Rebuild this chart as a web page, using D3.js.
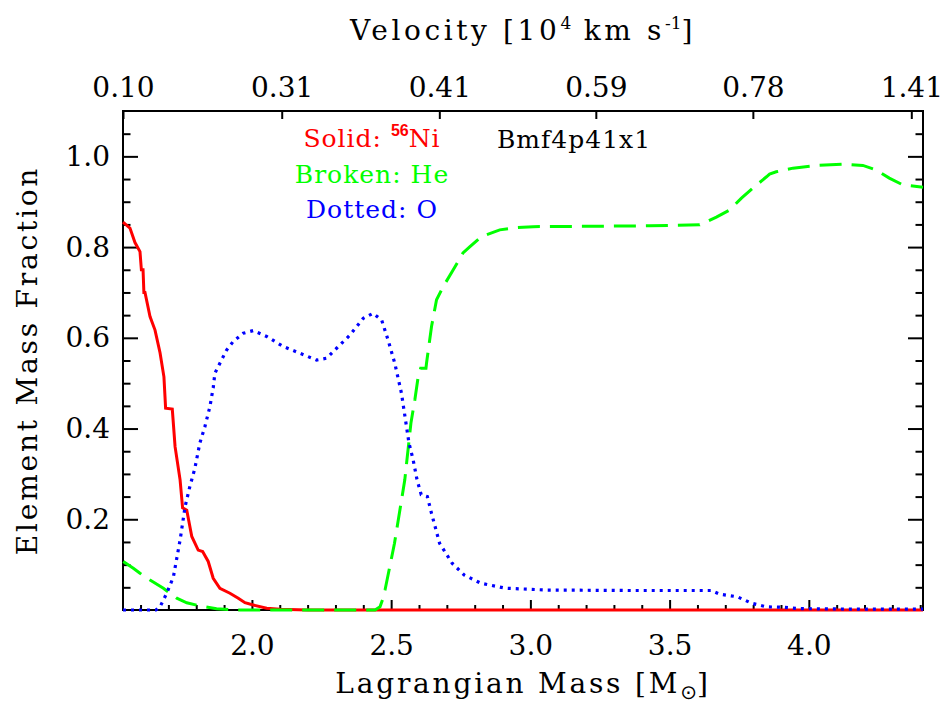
<!DOCTYPE html>
<html lang="en">
<head>
<meta charset="utf-8">
<title>Bmf4p41x1 element mass fractions</title>
<script src="https://cdnjs.cloudflare.com/ajax/libs/d3/7.8.5/d3.min.js"></script>
<style>
  body { margin: 0; background: #fff; }
  svg text { font-family: "DejaVu Serif", "Liberation Serif", serif; fill: #000; }
  .axis line { stroke: #000; stroke-width: 2; }
  .axis text { font-size: 28px; }
  .axis .domain { display: none; }
  .title { font-size: 28px; letter-spacing: 2.8px; }
  .legend { font-size: 25px; letter-spacing: 1px; }
</style>
</head>
<body>
<div id="chart"></div>
<script>

// 56Ni (solid red) : [Lagrangian mass, mass fraction]
var niData = [
  [1.537, 0.855], [1.562, 0.842], [1.580, 0.81], [1.598, 0.79], [1.603, 0.75],
  [1.609, 0.75], [1.612, 0.70], [1.616, 0.70], [1.634, 0.647], [1.652, 0.617],
  [1.670, 0.567], [1.684, 0.514], [1.690, 0.445], [1.714, 0.443], [1.724, 0.36],
  [1.742, 0.287], [1.751, 0.225], [1.766, 0.22], [1.784, 0.162], [1.807, 0.132],
  [1.823, 0.129], [1.843, 0.107], [1.861, 0.07], [1.885, 0.048], [1.921, 0.037],
  [1.951, 0.026], [1.975, 0.016], [2.005, 0.011], [2.053, 0.004], [2.101, 0.0015],
  [2.20, 0], [4.41, 0]
];

// He (broken green)
var heData = [
  [1.538, 0.107], [1.574, 0.092], [1.598, 0.081], [1.634, 0.066], [1.682, 0.048],
  [1.730, 0.026], [1.766, 0.016], [1.813, 0.009], [1.873, 0.003], [1.932, 0],
  [2.442, 0], [2.460, 0.007], [2.471, 0.026], [2.478, 0.044], [2.512, 0.147],
  [2.549, 0.287], [2.571, 0.412], [2.585, 0.463], [2.597, 0.514], [2.606, 0.533],
  [2.625, 0.533], [2.627, 0.544], [2.645, 0.625], [2.663, 0.684], [2.687, 0.713],
  [2.723, 0.75], [2.758, 0.787], [2.783, 0.801], [2.824, 0.823], [2.890, 0.838],
  [2.950, 0.843], [3.010, 0.845], [3.429, 0.847], [3.608, 0.849], [3.668, 0.866],
  [3.716, 0.882], [3.758, 0.908], [3.799, 0.93], [3.848, 0.955], [3.859, 0.961],
  [3.883, 0.966], [3.943, 0.974], [4.027, 0.98], [4.122, 0.983], [4.194, 0.98],
  [4.242, 0.97], [4.289, 0.952], [4.338, 0.937], [4.410, 0.932]
];

// O (dotted blue)
var oData = [
  [1.537, 0], [1.655, 0], [1.670, 0.007], [1.694, 0.037], [1.718, 0.073],
  [1.742, 0.154], [1.760, 0.228], [1.777, 0.272], [1.795, 0.312], [1.813, 0.368],
  [1.831, 0.404], [1.849, 0.448], [1.861, 0.49], [1.867, 0.522], [1.885, 0.544],
  [1.909, 0.573], [1.933, 0.592], [1.969, 0.61], [2.005, 0.616], [2.053, 0.603],
  [2.112, 0.581], [2.172, 0.566], [2.232, 0.551], [2.268, 0.555], [2.304, 0.577],
  [2.352, 0.606], [2.400, 0.643], [2.435, 0.654], [2.466, 0.639], [2.489, 0.595],
  [2.513, 0.544], [2.537, 0.478], [2.564, 0.368], [2.579, 0.331], [2.593, 0.287],
  [2.608, 0.254], [2.630, 0.25], [2.645, 0.213], [2.674, 0.147], [2.719, 0.103],
  [2.763, 0.077], [2.822, 0.059], [2.911, 0.048], [3.059, 0.044], [3.354, 0.043],
  [3.649, 0.043], [3.679, 0.035], [3.744, 0.029], [3.794, 0.015], [3.847, 0.007],
  [3.906, 0.006], [3.967, 0.003], [4.147, 0.002], [4.41, 0.002]
];

var massTicks = [2.0, 2.5, 3.0, 3.5, 4.0];
var fracTicks = [0.2, 0.4, 0.6, 0.8, 1.0];
// top axis: velocity labels sit at these mass coordinates
var velTickMass = [1.537, 2.107, 2.673, 3.235, 3.799, 4.368];
var velTickLabels = ["0.10", "0.31", "0.41", "0.59", "0.78", "1.41"];

var margin = { top: 111, right: 22, bottom: 94, left: 123 };
var width = 945 - margin.left - margin.right;
var height = 704 - margin.top - margin.bottom;

var x = d3.scaleLinear().domain([1.537, 4.41]).range([0, width]);
var y = d3.scaleLinear().domain([0, 1.1]).range([height, 0]);

var svg = d3.select("#chart").append("svg")
  .attr("width", 945)
  .attr("height", 704)
  .append("g")
  .attr("transform", "translate(" + margin.left + "," + margin.top + ")");

var minorX = d3.range(16, 45).map(function (k) { return k / 10; })
  .filter(function (d) { return Math.round(d * 10) % 5 != 0; });
var minorY = d3.range(1, 22).map(function (k) { return k / 20; })
  .filter(function (d) { return Math.round(d * 20) % 4 != 0; });

// bottom axis
svg.append("g").attr("class", "axis")
  .attr("transform", "translate(0," + height + ")")
  .call(d3.axisBottom(x).tickValues(massTicks).tickFormat(d3.format(".1f"))
    .tickSize(-10).tickPadding(25.6));
svg.append("g").attr("class", "axis")
  .attr("transform", "translate(0," + height + ")")
  .call(d3.axisBottom(x).tickValues(minorX).tickFormat("").tickSize(-5));

// top axis (velocity)
svg.append("g").attr("class", "axis")
  .call(d3.axisTop(x).tickValues(velTickMass)
    .tickFormat(function (d, i) { return velTickLabels[i]; })
    .tickSize(-8).tickPadding(14));

// left axis
svg.append("g").attr("class", "axis")
  .call(d3.axisLeft(y).tickValues(fracTicks).tickFormat(d3.format(".1f"))
    .tickSize(-15).tickPadding(13));
svg.append("g").attr("class", "axis")
  .call(d3.axisLeft(y).tickValues(minorY).tickFormat("").tickSize(-7.5));

// right axis
svg.append("g").attr("class", "axis")
  .attr("transform", "translate(" + width + ",0)")
  .call(d3.axisRight(y).tickValues(fracTicks).tickFormat("").tickSize(-15));
svg.append("g").attr("class", "axis")
  .attr("transform", "translate(" + width + ",0)")
  .call(d3.axisRight(y).tickValues(minorY).tickFormat("").tickSize(-7.5));

svg.append("rect")
  .attr("width", width)
  .attr("height", height)
  .attr("fill", "none")
  .attr("stroke", "#000")
  .attr("stroke-width", 2);

var line = d3.line()
  .x(function (d) { return x(d[0]); })
  .y(function (d) { return y(d[1]); });

svg.append("path")
  .datum(niData)
  .attr("d", line)
  .attr("fill", "none")
  .attr("stroke", "#ff0000")
  .attr("stroke-width", 3);

svg.append("path")
  .datum(heData)
  .attr("d", line)
  .attr("fill", "none")
  .attr("stroke", "#00ff00")
  .attr("stroke-width", 3)
  .attr("stroke-dasharray", "22,10");

svg.append("path")
  .datum(oData)
  .attr("d", line)
  .attr("fill", "none")
  .attr("stroke", "#0000ff")
  .attr("stroke-width", 3.2)
  .attr("stroke-dasharray", "3,5");

// legend
var leg = svg.append("g").attr("class", "legend");
var ni = leg.append("text")
  .attr("x", 249).attr("y", 36)
  .attr("text-anchor", "middle")
  .style("fill", "#ff0000");
ni.append("tspan").text("Solid: ");
ni.append("tspan")
  .attr("dy", -11)
  .style("font-family", "'Liberation Sans', sans-serif")
  .style("font-weight", "bold")
  .style("font-size", "16px")
  .style("letter-spacing", "0px")
  .text("56");
ni.append("tspan").attr("dy", 11).text("Ni");

leg.append("text")
  .attr("x", 249).attr("y", 72)
  .attr("text-anchor", "middle")
  .style("fill", "#00ff00")
  .text("Broken: He");

leg.append("text")
  .attr("x", 249).attr("y", 107)
  .attr("text-anchor", "middle")
  .style("fill", "#0000ff")
  .text("Dotted: O");

leg.append("text")
  .attr("x", 374).attr("y", 37)
  .text("Bmf4p41x1");

// axis titles
var xt = svg.append("text")
  .attr("class", "title")
  .attr("x", width / 2).attr("y", height + 83)
  .attr("text-anchor", "middle");
xt.append("tspan").text("Lagrangian Mass [M");
xt.append("tspan").attr("dy", 6).style("font-family", "'DejaVu Sans', sans-serif")
  .style("font-size", "20px").style("letter-spacing", "0px").text("\u2299");
xt.append("tspan").attr("dy", -6).text("]");

var vt = svg.append("text")
  .attr("class", "title")
  .attr("x", width / 2).attr("y", -71)
  .attr("text-anchor", "middle")
  .style("letter-spacing", "3.6px");
vt.append("tspan").text("Velocity [10");
vt.append("tspan").attr("dy", -11).style("font-size", "17px").style("letter-spacing", "0px").text("4");
vt.append("tspan").attr("dy", 11).text(" km s");
vt.append("tspan").attr("dy", -11).style("font-size", "17px").style("letter-spacing", "0px").text("-1");
vt.append("tspan").attr("dy", 11).text("]");

svg.append("text")
  .attr("class", "title")
  .attr("transform", "translate(-86," + (height / 2) + ") rotate(-90)")
  .attr("text-anchor", "middle")
  .text("Element Mass Fraction");

</script>
</body>
</html>
